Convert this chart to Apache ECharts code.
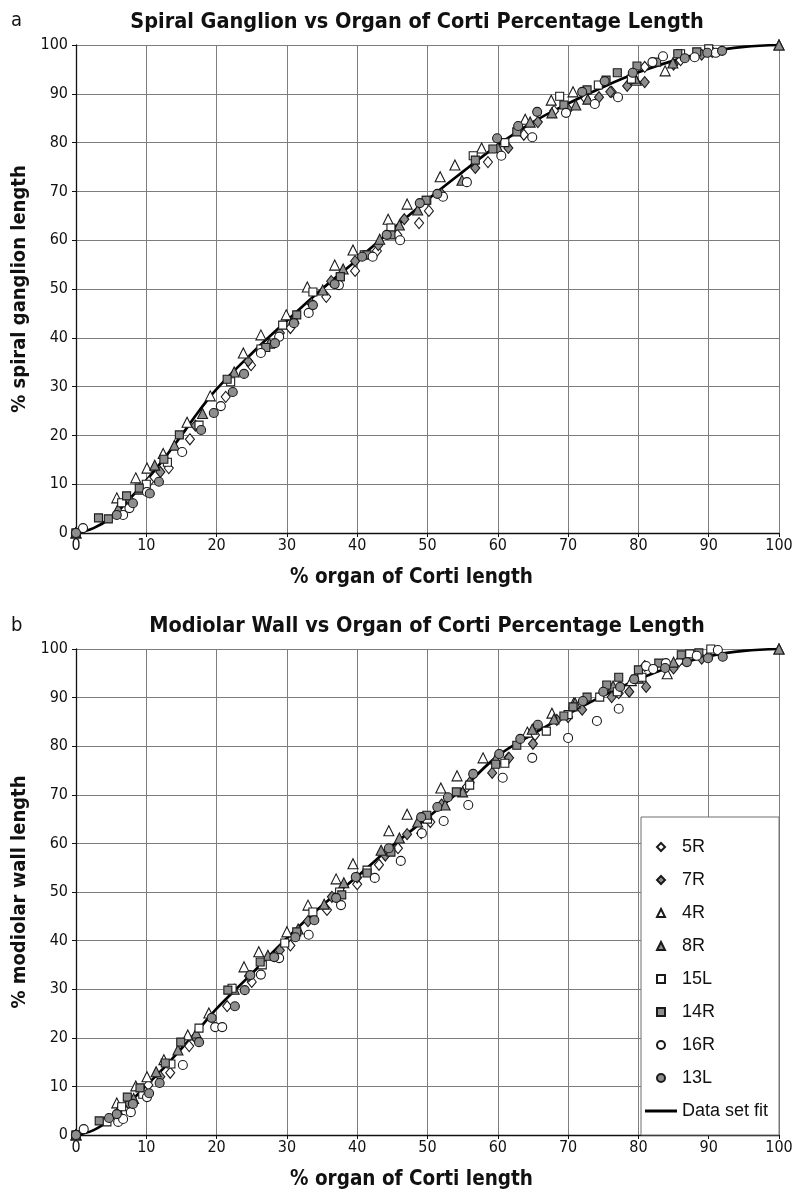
<!DOCTYPE html>
<html>
<head>
<meta charset="utf-8">
<script src="https://cdn.jsdelivr.net/npm/echarts@6/dist/echarts.min.js"></script>
<style>
html,body{margin:0;padding:0;background:#fff;}
#chart{width:800px;height:1199px;}
</style>
</head>
<body>
<div id="chart"></div>
<script>
// ---------- DATA ----------
const seriesNames = ['5R','7R','4R','8R','15L','14R','16R','13L'];
const fitName = 'Data set fit';
const titleA = 'Spiral Ganglion vs Organ of Corti Percentage Length';
const titleB = 'Modiolar Wall vs Organ of Corti Percentage Length';
const xAxisTitle = '% organ of Corti length';
const yAxisTitleA = '% spiral ganglion length';
const yAxisTitleB = '% modiolar wall length';

// Panel a: spiral ganglion % vs organ of Corti %
const a_5R = [[0,0],[10.4,10.5],[13.2,13.3],[16.2,19.2],[21.3,27.9],[24.9,34.4],[30.5,42],[35.6,48.4],[39.7,53.7],[42.8,57.8],[45.7,61.1],[48.8,63.5],[50.2,66],[58.6,76],[63.7,81.6],[68,86.5],[72.5,89],[76.2,90.4],[80.9,95.5],[86,96.9],[90.5,98.6]];
const a_7R = [[0,0],[7.5,7],[12,12.5],[17,22],[24.5,35.2],[29,41],[33.5,47],[36.3,51.6],[39.7,55.7],[43,59],[46.7,64.3],[52,69.5],[56.8,74.8],[61.5,78.9],[65.7,84.2],[70,86.8],[74.4,89.3],[76,90.4],[78.4,91.6],[80.9,92.4],[85,96],[89,98]];
const a_4R = [[0,0],[5.8,7.2],[8.5,11.3],[10.1,13.3],[12.4,16.3],[15.8,22.7],[19.1,28.1],[23.8,36.9],[26.3,40.6],[29.9,44.7],[32.9,50.4],[36.8,54.9],[39.4,58],[44.4,64.3],[47.1,67.4],[51.8,73],[53.9,75.4],[57.7,78.9],[63.9,84.8],[67.6,88.7],[70.7,90.4],[79.7,92.8],[83.8,94.7],[100,100]];
const a_8R = [[0,0],[6,5],[9,9],[11.2,13.9],[14,18],[18,24.5],[22.5,33],[27.5,38.9],[31,44],[35.1,49.8],[38,54.1],[43.2,60.2],[46,63.1],[48.6,66.2],[54.9,72.3],[60,79],[64.6,84.2],[67.7,86.1],[71.1,87.7],[72.8,88.9],[79.5,93.2],[84.9,96.3],[100,100]];
const a_15L = [[0,0],[6.5,6.2],[10,10],[13,14.5],[17.5,22.1],[22,31],[26.3,37.7],[29.4,42.6],[33.7,49.4],[37.6,52.5],[41,57],[44.8,62.5],[49.9,68.2],[56.5,77.3],[61,80],[68.8,89.5],[74.3,91.8],[79,93],[86,98.2],[90,99.2]];
const a_14R = [[0,0],[3.2,3.1],[4.6,2.9],[7.2,7.6],[9,9.2],[12.5,15.1],[14.7,20.1],[21.5,31.5],[27,38],[31.4,44.7],[37.6,52.5],[41.4,57],[44.8,61.1],[49.8,68.2],[56.8,76.4],[59.3,78.7],[62.7,82.2],[69.4,87.7],[72.7,90.8],[75.4,92.8],[77,94.3],[79.8,95.7],[82.6,96.5],[85.6,98.2],[88.3,98.6]];
const a_16R = [[0,0],[1,1],[6.7,3.7],[7.6,5.1],[10.1,8.4],[15.1,16.6],[20.6,26],[26.3,36.9],[28.9,40.2],[33.1,45.1],[37.4,50.8],[42.2,56.6],[46.1,60],[52.2,68.9],[55.6,71.9],[60.5,77.3],[64.9,81.1],[69.7,86.1],[73.8,87.9],[77.1,89.3],[82,96.5],[83.5,97.7],[88,97.5],[91,98.4]];
const a_13L = [[0,0],[5.8,3.7],[8.1,6.1],[10.5,8.1],[11.8,10.5],[17.8,21.1],[19.6,24.6],[22.3,28.9],[23.9,32.6],[28.3,38.9],[31,43],[33.7,46.7],[36.8,51],[40.7,56.6],[44.2,61.1],[48.9,67.6],[51.4,69.5],[59.9,80.9],[62.9,83.4],[65.6,86.3],[72,90.4],[75.2,92.6],[79.2,94.3],[86.6,97.3],[89.8,98.4],[91.9,98.8]];
const fitX  = [0,2.5,5,7.5,10,12.5,15,17.5,20,25,30,35,40,45,50,55,60,65,70,75,80,85,90,95,100];
const fitAY = [0,1,3.2,6.8,10.8,15.2,20,25,29.5,36.8,43.5,50,56,62.2,68.3,74,79.5,84.2,88,91.4,94.4,96.8,98.6,99.6,100];

// Panel b: modiolar wall % vs organ of Corti %
const b_5R = [[0,0],[10.3,10.3],[13.4,12.8],[16.1,18.3],[21.5,26.5],[25,31.5],[30.5,39],[35.7,46.3],[40,51.6],[43.1,55.6],[45.8,59],[49.1,62.1],[50.4,64.4],[55.6,71.6],[61.5,77.6],[65.3,82.3],[70,86],[77.2,90.9],[80.9,96.5],[85.8,97.5],[90,98.5]];
const b_7R = [[0,0],[7.5,6.5],[12,12],[17,20],[24.6,32.7],[29,38],[33,44],[36.4,49],[40,53],[44,57.5],[47.1,61.9],[52,68],[56,72.5],[59.2,74.5],[61.6,77.6],[65,80.5],[68.4,85.4],[72,87.5],[76.2,90.1],[78.7,91.2],[81.1,92.2],[85,96],[89,98]];
const b_4R = [[0,0],[5.8,6.6],[8.5,10.1],[10.1,12],[12.5,15.5],[15.9,20.6],[18.9,25.1],[23.9,34.6],[26,37.7],[30,41.8],[33,47.3],[37,52.7],[39.4,55.8],[44.5,62.6],[47.1,66],[51.9,71.4],[54.2,73.9],[57.9,77.6],[64.2,82.9],[67.7,86.8],[70.8,88.9],[79,93.5],[84.1,94.9],[100,100]];
const b_8R = [[0,0],[6,5],[8.2,7.5],[11.4,13],[14.5,17.5],[17.1,21],[22.5,30],[27.3,37],[31.6,42.4],[35.3,47.5],[38.1,51.9],[43.4,58.6],[46,61.1],[48.6,64.4],[52.5,67.9],[55,70.6],[59.7,77.4],[64.9,83.5],[68,85.6],[71,88.9],[76.4,92.4],[80,94],[85,97.3],[100,100]];
const b_15L = [[0,0],[4.4,2.7],[6.5,5.8],[9.5,8.4],[13.5,14.6],[17.5,22],[22.2,30.2],[26.5,35],[29.7,39.5],[33.7,45.9],[37.5,50],[41.4,54.5],[44.7,58.6],[50,65],[56,72],[61,76.5],[66.9,83.1],[70,86.5],[74.5,90.1],[77,91.2],[80.5,94.2],[87.3,99],[90.3,100]];
const b_14R = [[0,0],[3.3,2.9],[7.3,7.8],[9.1,9.7],[12.7,14.8],[14.9,19.1],[21.6,29.8],[26.2,35.6],[31.4,41.8],[37.8,49.4],[41.4,53.9],[44.8,58.2],[49.9,65.8],[54.1,70.6],[59.7,76.3],[62.7,80.2],[69.4,86.2],[70.7,88.1],[72.7,90.1],[75.5,92.6],[77.2,94.2],[80,95.7],[82.9,97.1],[86.1,98.8],[88.6,99.2]];
const b_16R = [[0,0],[1.1,1.2],[6,2.7],[6.7,3.3],[7.8,4.7],[10.1,7.8],[15.2,14.4],[19.8,22.2],[20.8,22.2],[26.3,33],[28.9,36.4],[33.1,41.2],[37.7,47.3],[42.5,52.9],[46.2,56.4],[49.2,62.1],[52.3,64.6],[55.8,67.9],[60.7,73.5],[64.9,77.6],[70,81.7],[74.1,85.2],[77.2,87.7],[81.1,96.5],[82.1,95.9],[83.9,97.1],[88.3,98.6],[91.3,99.8]];
const b_13L = [[0,0],[4.7,3.5],[5.8,4.3],[8.1,6.4],[10.4,8.6],[11.9,10.7],[17.5,19.1],[19.3,24.1],[22.6,26.5],[24,29.8],[24.8,32.9],[28.2,36.6],[31.2,40.7],[33.9,44.2],[37,48.8],[39.8,53.1],[44.5,59],[49.1,65.4],[51.4,67.5],[52.9,69.5],[56.5,74.3],[60.2,78.4],[63.2,81.5],[65.7,84.4],[72.1,89.3],[75,91.2],[77.4,92.2],[79.4,93.8],[83.8,96.1],[86.9,97.3],[89.9,98.1],[92,98.4]];
const fitBY = [0,1,3.3,6.5,10.2,13.8,17.8,21.8,26,33.2,40.5,47.2,53.2,59.5,65.3,71.3,78,82.5,86.6,90.4,93.8,96.5,98.5,99.6,100];

// ---------- STYLE ----------
const NARROW = '"Liberation Sans Narrow","Arial Narrow","DejaVu Sans Condensed","Liberation Sans",sans-serif';
const REG = '"Liberation Sans",Arial,sans-serif';
const GRAY = '#8e8e8e';
const EDGE = '#1a1a1a';
const ICON = {
  diamond: 'path://M5,0L10,5L5,10L0,5Z',
  triangle: 'path://M5,0L10,10L0,10Z',
  rect: 'path://M0,0H10V10H0Z',
  circle: 'path://M5,0A5,5,0,1,1,5,10A5,5,0,1,1,5,0Z',
  line: 'path://M0,0H32V3H0Z'
};
const markerStyle = {
  '5R':  {symbol:'diamond', size:[9,11], fill:'#ffffff'},
  '7R':  {symbol:'diamond', size:[9,11], fill:GRAY},
  '4R':  {symbol:'triangle', size:[10,10], fill:'#ffffff'},
  '8R':  {symbol:'triangle', size:[10,10], fill:GRAY},
  '15L': {symbol:'rect', size:[8,8], fill:'#ffffff'},
  '14R': {symbol:'rect', size:[8,8], fill:GRAY},
  '16R': {symbol:'circle', size:[9,9], fill:'#ffffff'},
  '13L': {symbol:'circle', size:[9,9], fill:GRAY}
};
const panelA = {'5R':a_5R,'7R':a_7R,'4R':a_4R,'8R':a_8R,'15L':a_15L,'14R':a_14R,'16R':a_16R,'13L':a_13L};
const panelB = {'5R':b_5R,'7R':b_7R,'4R':b_4R,'8R':b_8R,'15L':b_15L,'14R':b_14R,'16R':b_16R,'13L':b_13L};

function fitSeries(ys, idx){
  return {
    name: fitName, type:'line', xAxisIndex:idx, yAxisIndex:idx,
    data: fitX.map((x,i)=>[x, ys[i]]),
    smooth: 0.4, symbol:'none', z:2,
    lineStyle:{color:'#000', width:2.7},
    itemStyle:{color:'#000'}
  };
}
function scatterSeries(panel, idx){
  return seriesNames.map(n => ({
    name:n, type:'scatter', xAxisIndex:idx, yAxisIndex:idx,
    data: panel[n], symbol: markerStyle[n].symbol, symbolSize: markerStyle[n].size, z:3,
    itemStyle:{color: markerStyle[n].fill, borderColor: EDGE, borderWidth: 1.1, opacity:1}
  }));
}

function xAxis(idx){
  return {
    type:'value', gridIndex:idx, min:0, max:100, interval:10,
    name: xAxisTitle, nameLocation:'middle', nameGap:34,
    nameTextStyle:{fontFamily:NARROW, fontWeight:'bold', fontSize:20.5, color:'#111', padding:[0,32,0,0]},
    axisLine:{show:true, onZero:false, lineStyle:{color:'#111', width:1.3}},
    axisTick:{show:true, length:4, lineStyle:{color:'#111'}},
    axisLabel:{fontFamily:NARROW, fontSize:16, color:'#111', margin:5},
    splitLine:{show:true, lineStyle:{color:'#7d7d7d', width:1}}
  };
}
function yAxis(idx, name){
  return {
    type:'value', gridIndex:idx, min:0, max:100, interval:10,
    name: name, nameLocation:'middle', nameGap:43,
    nameTextStyle:{fontFamily:NARROW, fontWeight:'bold', fontSize:20, color:'#111'},
    axisLine:{show:true, onZero:false, lineStyle:{color:'#111', width:1.3}},
    axisTick:{show:true, length:4, lineStyle:{color:'#111'}},
    axisLabel:{fontFamily:NARROW, fontSize:16, color:'#111', margin:8},
    splitLine:{show:true, lineStyle:{color:'#7d7d7d', width:1}}
  };
}

const legendData = seriesNames.map(n => ({name:n, icon: ICON[markerStyle[n].symbol]}))
  .concat([{name: fitName, icon: ICON.line}]);

const chart = echarts.init(document.getElementById('chart'), null, {renderer:'canvas'});
chart.setOption({
  backgroundColor:'#ffffff',
  animation:false,
  title:[
    {text:titleA, left:412, top:6, textAlign:'center', textStyle:{fontFamily:NARROW, fontWeight:'bold', fontSize:21.5, color:'#111'}},
    {text:'a', left:6, top:6, textStyle:{fontFamily:NARROW, fontWeight:'normal', fontSize:20, color:'#111'}},
    {text:titleB, left:422, top:610, textAlign:'center', textStyle:{fontFamily:NARROW, fontWeight:'bold', fontSize:21.5, color:'#111'}},
    {text:'b', left:6, top:611, textStyle:{fontFamily:NARROW, fontWeight:'normal', fontSize:20, color:'#111'}}
  ],
  grid:[
    {left:76, right:21, top:45, height:488},
    {left:76, right:21, top:649, height:486}
  ],
  xAxis:[xAxis(0), xAxis(1)],
  yAxis:[yAxis(0, yAxisTitleA), yAxis(1, yAxisTitleB)],
  legend:{
    orient:'vertical', left:641, top:817,
    data: legendData,
    itemWidth:32, itemHeight:8, itemGap:13, symbolKeepAspect:true,
    padding:[20, 11, 14, 4],
    backgroundColor:'#ffffff', borderColor:'#6e6e6e', borderWidth:1,
    textStyle:{fontFamily:REG, fontSize:18, color:'#111', lineHeight:20},
    selectedMode:false
  },
  series:[
    fitSeries(fitAY, 0), fitSeries(fitBY, 1),
    ...scatterSeries(panelA, 0), ...scatterSeries(panelB, 1)
  ]
});
</script>
</body>
</html>
